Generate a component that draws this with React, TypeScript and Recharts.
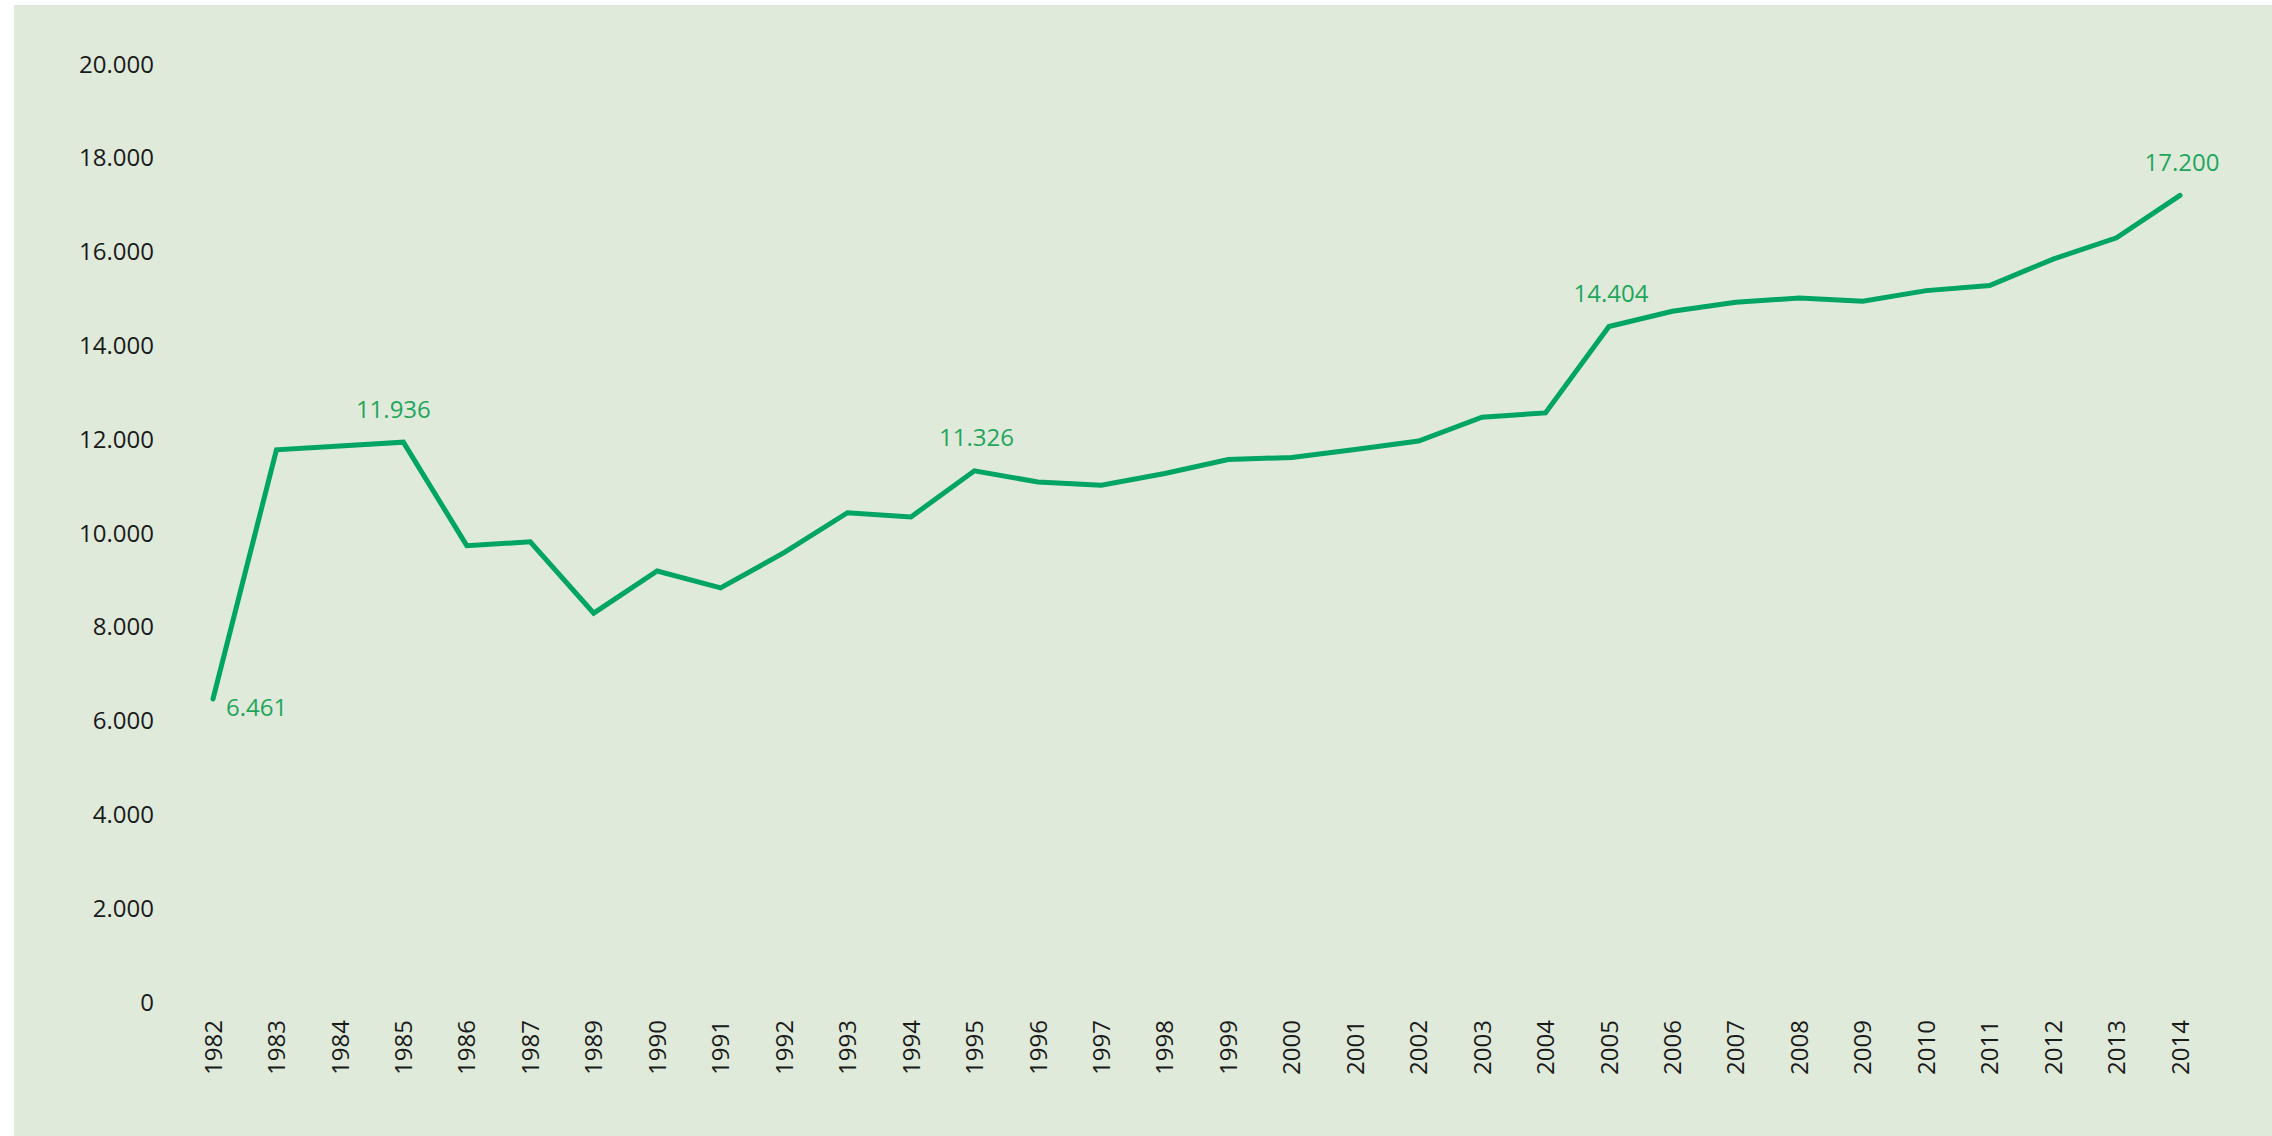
import React from "react";
import { LineChart, Line, XAxis, YAxis, LabelList } from "recharts";

const years = [
  "1982", "1983", "1984", "1985", "1986", "1987", "1989", "1990", "1991", "1992",
  "1993", "1994", "1995", "1996", "1997", "1998", "1999", "2000", "2001", "2002",
  "2003", "2004", "2005", "2006", "2007", "2008", "2009", "2010", "2011", "2012",
  "2013", "2014",
];

const values = [
  6461, 11773, 11855, 11936, 9730, 9812, 8290, 9190, 8830, 9580,
  10432, 10342, 11326, 11088, 11020, 11269, 11565, 11611, 11780, 11960,
  12470, 12560, 14404, 14728, 14918, 15010, 14940, 15168, 15275, 15840,
  16295, 17200,
];

const labeledYears = ["1982", "1985", "1995", "2005", "2014"];

const yTicks = [0, 2000, 4000, 6000, 8000, 10000, 12000, 14000, 16000, 18000, 20000];

const data = years.map((year, i) => ({ year, value: values[i] }));

const FONT = "'Open Sans', 'Noto Sans', sans-serif";
const LINE_COLOR = "#00a563";
const LABEL_COLOR = "#1fa65b";
const TEXT_COLOR = "#1a1a1a";

const fmt = (v: number) => {
  if (v === 0) return "0";
  const s = String(Math.round(v));
  return s.replace(/\B(?=(\d{3})+(?!\d))/g, ".");
};

const XTick = (props: any) => {
  const { x, y, payload } = props;
  return (
    <text
      transform={`translate(${x},${y}) rotate(-90)`}
      textAnchor="end"
      dy="0.36em"
      fill={TEXT_COLOR}
      fontFamily={FONT}
      fontSize={24}
    >
      {payload.value}
    </text>
  );
};

const YTick = (props: any) => {
  const { x, y, payload } = props;
  return (
    <text
      x={x}
      y={y}
      textAnchor="end"
      dy="0.36em"
      fill={TEXT_COLOR}
      fontFamily={FONT}
      fontSize={24}
    >
      {fmt(payload.value)}
    </text>
  );
};

const ValueLabel = (props: any) => {
  const { x, y, value, index } = props;
  const year = years[index];
  if (!labeledYears.includes(year)) return null;
  if (index === 0) {
    return (
      <text
        x={x + 13}
        y={y + 8}
        dy="0.36em"
        textAnchor="start"
        fill={LABEL_COLOR}
        fontFamily={FONT}
        fontSize={24}
      >
        {fmt(value)}
      </text>
    );
  }
  const shift = index === 3 ? -10 : 2;
  return (
    <text
      x={x + shift}
      y={y - 33}
      dy="0.36em"
      textAnchor="middle"
      fill={LABEL_COLOR}
      fontFamily={FONT}
      fontSize={24}
    >
      {fmt(value)}
    </text>
  );
};

export default function App() {
  return (
    <div
      style={{
        position: "absolute",
        left: 0,
        top: 0,
        width: 2272,
        height: 1136,
        background: "#ffffff",
        overflow: "hidden",
      }}
    >
      <div
        style={{
          position: "absolute",
          left: 14,
          top: 5,
          right: 0,
          bottom: 0,
          background: "#dfeadb",
        }}
      />
      <div style={{ position: "absolute", left: 0, top: 0 }}>
        <LineChart
          width={2272}
          height={1136}
          data={data}
          margin={{ top: 64, right: 92, bottom: 0, left: 0 }}
        >
          <XAxis
            dataKey="year"
            scale="point"
            padding={{ left: 0, right: 0 }}
            axisLine={false}
            tickLine={false}
            tickSize={0}
            tickMargin={18}
            height={134}
            interval={0}
            tick={<XTick />}
          />
          <YAxis
            domain={[0, 20000]}
            ticks={yTicks}
            axisLine={false}
            tickLine={false}
            tickSize={0}
            tickMargin={59}
            width={213}
            interval={0}
            tick={<YTick />}
          />
          <Line
            type="linear"
            dataKey="value"
            stroke={LINE_COLOR}
            strokeWidth={5}
            strokeLinecap="round"
            strokeLinejoin="miter"
            dot={false}
            activeDot={false}
            isAnimationActive={false}
          >
            <LabelList dataKey="value" content={<ValueLabel />} />
          </Line>
        </LineChart>
      </div>
    </div>
  );
}
